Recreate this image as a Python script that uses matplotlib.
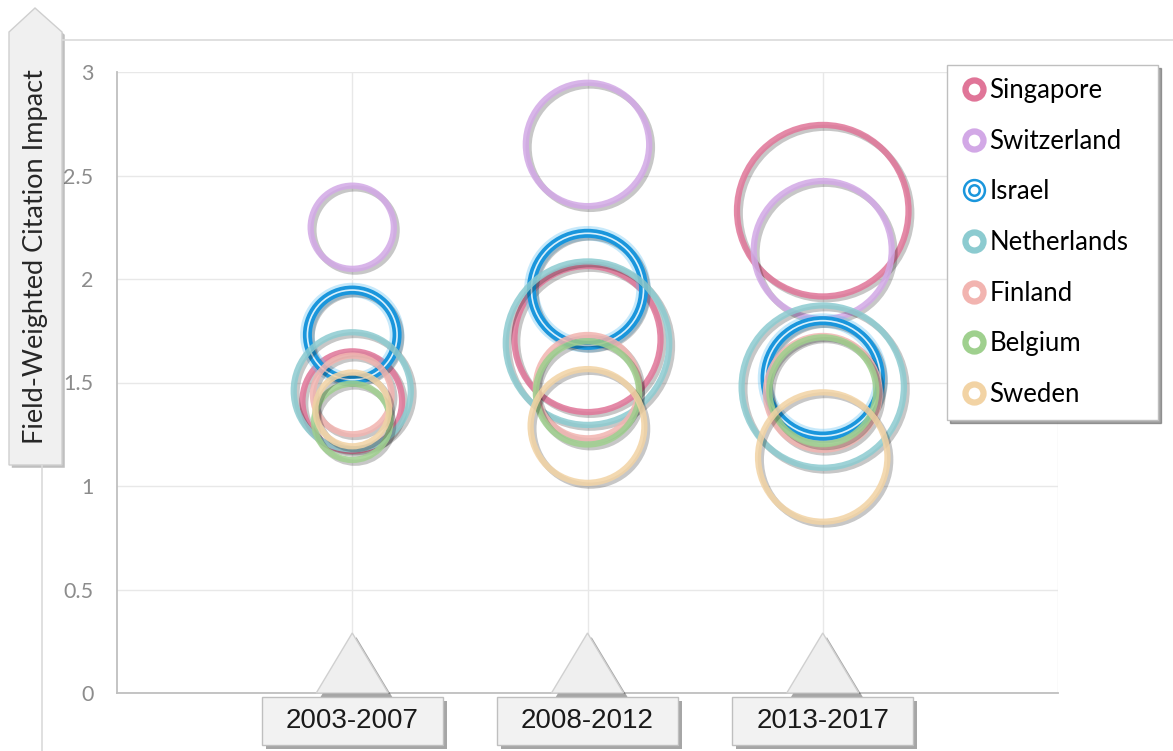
import numpy as np
import matplotlib.pyplot as plt
import matplotlib.patheffects as pe
from matplotlib.patches import Polygon, Rectangle
from matplotlib.lines import Line2D

plt.rcParams['font.family'] = ['Lato', 'DejaVu Sans']

periods = ['2003-2007', '2008-2012', '2013-2017']
countries = ['Singapore', 'Switzerland', 'Israel', 'Netherlands', 'Finland', 'Belgium', 'Sweden']

# field-weighted citation impact per period
fwci_singapore = [1.41, 1.71, 2.33]
fwci_switzerland = [2.25, 2.65, 2.14]
fwci_israel = [1.73, 1.95, 1.52]
fwci_netherlands = [1.46, 1.69, 1.48]
fwci_finland = [1.44, 1.48, 1.45]
fwci_belgium = [1.31, 1.45, 1.46]
fwci_sweden = [1.37, 1.29, 1.14]

# bubble size (relative output)
size_singapore = [28, 58, 79]
size_switzerland = [20, 42, 52]
size_israel = [23, 35, 37]
size_netherlands = [38, 72, 71]
size_finland = [18, 30, 36]
size_belgium = [17, 30, 32]
size_sweden = [16, 36, 46]

fwci = [fwci_singapore, fwci_switzerland, fwci_israel, fwci_netherlands,
        fwci_finland, fwci_belgium, fwci_sweden]
sizes = [size_singapore, size_switzerland, size_israel, size_netherlands,
         size_finland, size_belgium, size_sweden]
colors = ['#e07598', '#d2a8e6', '#1a96dc', '#8ccbd0', '#f2b4b0', '#9fd08e', '#f2d3a4']

W, H, DPI = 1173, 751, 100
fig = plt.figure(figsize=(W / DPI, H / DPI), dpi=DPI)
ax = fig.add_axes([117 / W, 1 - 693 / H, (1058 - 117) / W, (693 - 72) / H])
ax.set_xlim(0, 4)
ax.set_ylim(0, 3)

ax.set_yticks(np.arange(0, 3.01, 0.5))
ax.set_yticklabels(['0', '0.5', '1', '1.5', '2', '2.5', '3'])
ax.set_xticks([1, 2, 3, 4])
ax.set_xticklabels([])
ax.tick_params(length=0, labelsize=15.5, labelcolor='#8c8c8c', pad=17)
ax.grid(color='#e8e8e8', lw=1)
ax.set_axisbelow(True)
for s in ['top', 'right']:
    ax.spines[s].set_visible(False)
for s in ['left', 'bottom']:
    ax.spines[s].set_color('#bfbfbf')
    ax.spines[s].set_linewidth(1.3)

x = np.arange(1, len(periods) + 1)
lw = 4.5
shadow = [pe.SimpleLineShadow(offset=(2, -2), shadow_color='k', alpha=0.22), pe.Normal()]
for name, yv, sz, c in zip(countries, fwci, sizes, colors):
    r_px = 10 * np.sqrt(np.array(sz, dtype=float)) - lw * DPI / 72 / 2
    s = (2 * r_px * 72 / DPI) ** 2
    if name == 'Israel':
        ax.scatter(x, yv, s=s, facecolors='none', edgecolors='#5fc0f2', linewidths=lw + 6,
                   alpha=0.35, zorder=3, clip_on=False)
        ax.scatter(x, yv, s=s, facecolors='none', edgecolors=c, linewidths=lw + 2,
                   zorder=3, clip_on=False, path_effects=shadow)
        ax.scatter(x, yv, s=s, facecolors='none', edgecolors='#d8f0fc', linewidths=1.2,
                   zorder=3, clip_on=False)
    else:
        ax.scatter(x, yv, s=s, facecolors='none', edgecolors=c, linewidths=lw,
                   alpha=0.85, zorder=3, clip_on=False, path_effects=shadow)

# category callouts under the axis
tr = ax.get_xaxis_transform()
box_shadow = [pe.withSimplePatchShadow(offset=(3, -3), shadow_rgbFace='k', alpha=0.35)]
for xi, lab in zip(x, periods):
    tri = Polygon([[xi - 0.153, 0], [xi, 0.0966], [xi + 0.153, 0]], closed=True,
                  transform=tr, facecolor='#efefef', edgecolor='#d0d0d0', lw=1,
                  clip_on=False, zorder=4, path_effects=box_shadow)
    ax.add_patch(tri)
    box = Rectangle((xi - 0.385, -0.0837), 0.77, 0.0773, transform=tr,
                    facecolor='#f2f2f2', edgecolor='#bfbfbf', lw=1, clip_on=False,
                    zorder=5, path_effects=box_shadow)
    ax.add_patch(box)
    ax.text(xi, -0.0455, lab, transform=tr, ha='center', va='center', fontsize=20,
            family=['Liberation Sans', 'DejaVu Sans'], color='#1a1a1a', zorder=6)

# outer chart frame
fig.add_artist(Line2D([62 / W, 1], [1 - 40 / H, 1 - 40 / H], color='#dadada', lw=1.2))
fig.add_artist(Line2D([42 / W, 42 / W], [1 - 465 / H, 0], color='#dadada', lw=1.2))

# y-axis title arrow box
pts = [(9, 465), (9, 32), (35, 8), (62, 32), (62, 465)]
arrow = Polygon([(px / W, 1 - py / H) for px, py in pts], closed=True,
                transform=fig.transFigure, facecolor='#f0f0f0', edgecolor='#cfcfcf', lw=1,
                path_effects=[pe.withSimplePatchShadow(offset=(2, -2), shadow_rgbFace='k', alpha=0.25)])
fig.add_artist(arrow)
fig.text(36 / W, 1 - 257 / H, 'Field-Weighted Citation Impact', rotation=90,
         ha='center', va='center', fontsize=19.5, color='#262626')

# legend
handles = []
for name, c in zip(countries, colors):
    if name == 'Israel':
        h1 = Line2D([], [], ls='none', marker='o', markersize=15, markerfacecolor='none',
                    markeredgecolor=c, markeredgewidth=1.8)
        h2 = Line2D([], [], ls='none', marker='o', markersize=7.5, markerfacecolor='none',
                    markeredgecolor=c, markeredgewidth=1.8)
        handles.append((h1, h2))
    else:
        handles.append(Line2D([], [], ls='none', marker='o', markersize=13,
                              markerfacecolor='white', markeredgecolor=c, markeredgewidth=4.5))
leg = fig.legend(handles, countries, loc='upper left',
                 bbox_to_anchor=(947 / W, 1 - 413 / H, 211 / W, 348 / H), mode='expand',
                 fontsize=18.5, labelspacing=1.0, handlelength=1.1, handletextpad=0.05,
                 borderpad=0.5, borderaxespad=0, fancybox=False, shadow=True,
                 edgecolor='#bfbfbf', framealpha=1)
leg.get_frame().set_linewidth(1)

fig.savefig('out.png', dpi=DPI)
